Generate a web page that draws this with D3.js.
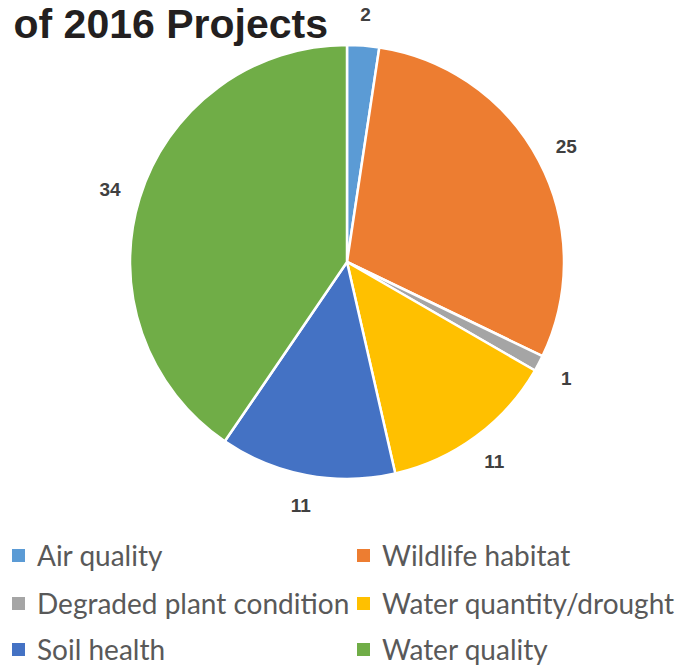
<!DOCTYPE html>
<html><head><meta charset="utf-8">
<script src="https://cdn.jsdelivr.net/npm/d3@7"></script>
<style>body{margin:0;background:#fff;} svg{display:block;}</style>
</head><body>
<svg id="chart" width="691" height="669"></svg>
<script>
const categories = ["Air quality","Wildlife habitat","Degraded plant condition","Water quantity/drought","Soil health","Water quality"];
const values = [2, 25, 1, 11, 11, 34];
const colors = ["#5B9BD5","#ED7D31","#A5A5A5","#FFC000","#4472C4","#70AD47"];
const titleText = "of 2016 Projects";

const svg = d3.select("#chart");
const cx = 347, cy = 262, R = 217, labelR = 248;

svg.append("text").attr("x", 328).attr("y", 38).attr("text-anchor","end")
  .attr("font-family","'Liberation Sans', Arial, sans-serif").attr("font-weight","bold")
  .attr("font-size", 41).attr("fill","#231f20").text(titleText);

const pie = d3.pie().sort(null).value(d => d)(values);
const arc = d3.arc().innerRadius(0).outerRadius(R);
const labelArc = d3.arc().innerRadius(labelR).outerRadius(labelR);
const g = svg.append("g").attr("transform", `translate(${cx},${cy})`);
g.selectAll("path").data(pie).join("path")
  .attr("d", arc).attr("fill", (d,i) => colors[i])
  .attr("stroke","#fff").attr("stroke-width", 2.5).attr("stroke-linejoin","round");
g.selectAll("text.lbl").data(pie).join("text").attr("class","lbl")
  .attr("transform", d => `translate(${labelArc.centroid(d)})`)
  .attr("text-anchor","middle").attr("dy","0.35em")
  .attr("font-family","'Liberation Sans', Arial, sans-serif").attr("font-weight","bold")
  .attr("font-size", 19).attr("fill","#404040").text(d => d.data);

const legX = [12, 357], legY = [556, 604, 650];
const leg = svg.append("g");
categories.forEach((c, i) => {
  const x = legX[i % 2], y = legY[Math.floor(i / 2)];
  leg.append("rect").attr("x", x).attr("y", y - 7).attr("width", 13).attr("height", 13).attr("fill", colors[i]);
  leg.append("text").attr("x", x + 25).attr("y", y).attr("dy","0.35em")
    .attr("font-family","Lato, 'Open Sans', sans-serif").attr("font-size", 28)
    .attr("fill","#595959").text(c);
});
</script>
</body></html>
